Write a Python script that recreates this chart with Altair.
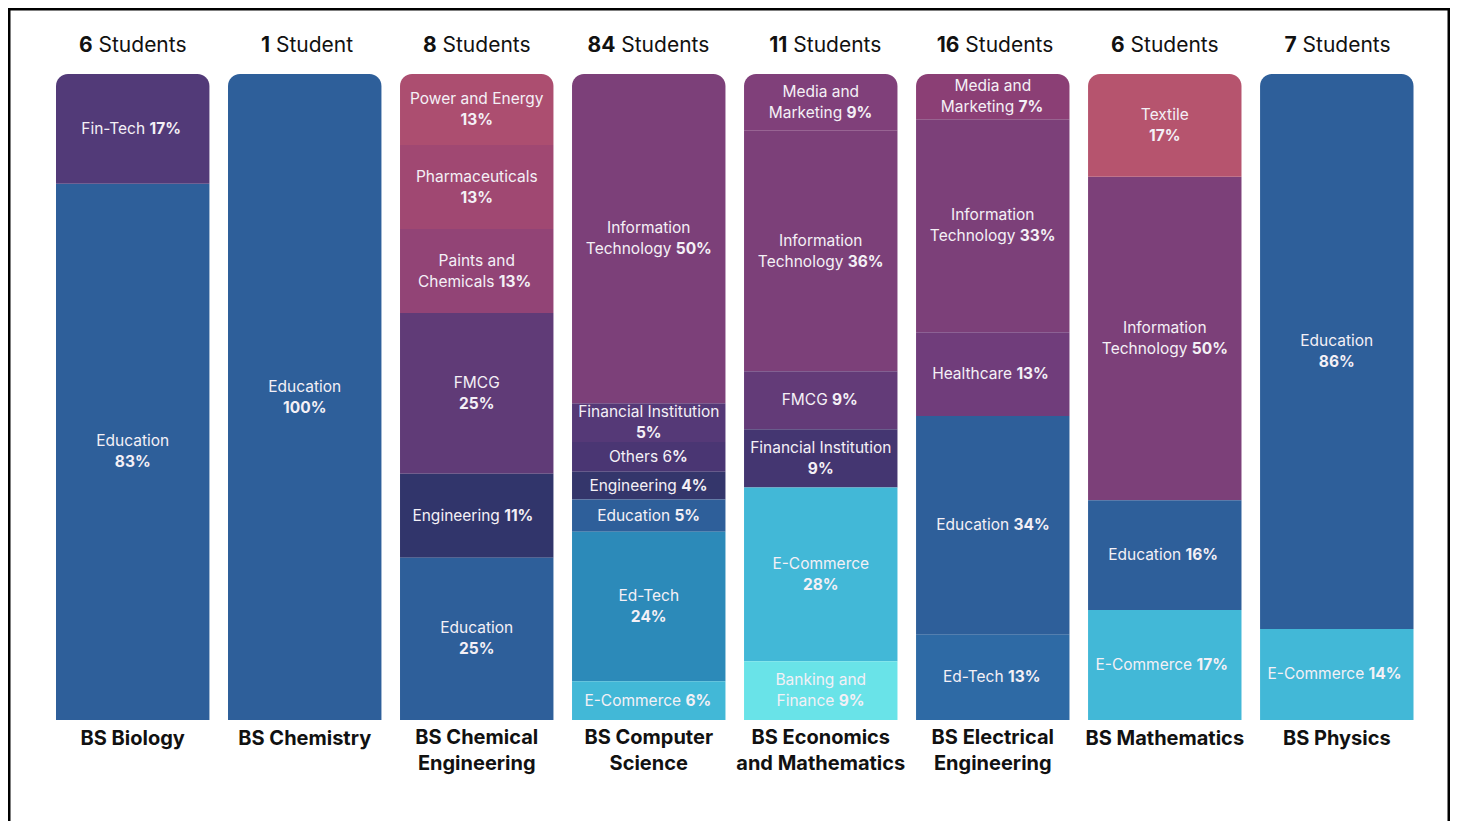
import altair as alt
import pandas as pd

# ---------------- data ----------------
programs = ["BS Biology", "BS Chemistry", "BS Chemical Engineering", "BS Computer Science",
            "BS Economics and Mathematics", "BS Electrical Engineering", "BS Mathematics", "BS Physics"]
program_titles = ["BS Biology", "BS Chemistry", "BS Chemical\nEngineering", "BS Computer\nScience",
                  "BS Economics\nand Mathematics", "BS Electrical\nEngineering", "BS Mathematics", "BS Physics"]
student_counts = [6, 1, 8, 84, 11, 16, 6, 7]
student_words = ["Students", "Student", "Students", "Students", "Students", "Students", "Students", "Students"]

bio_sectors = ["Fin-Tech", "Education"]
bio_shares = [17.0, 83.0]
bio_labels = ["Fin-Tech **17%**", "Education\n**83%**"]

chem_sectors = ["Education"]
chem_shares = [100.0]
chem_labels = ["Education\n**100%**"]

cheng_sectors = ["Power and Energy", "Pharmaceuticals", "Paints and Chemicals", "FMCG", "Engineering", "Education"]
cheng_shares = [11.0, 13.0, 13.0, 24.9, 13.0, 25.1]
cheng_labels = ["Power and Energy\n**13%**", "Pharmaceuticals\n**13%**", "Paints and\nChemicals **13%**",
                "FMCG\n**25%**", "Engineering **11%**", "Education\n**25%**"]

cs_sectors = ["Information Technology", "Financial Institution", "Others", "Engineering", "Education", "Ed-Tech", "E-Commerce"]
cs_shares = [50.9, 6.0, 4.6, 4.3, 5.0, 23.1, 6.0]
cs_labels = ["Information\nTechnology **50%**", "Financial Institution\n**5%**", "Others 6**%**",
             "Engineering **4%**", "Education **5%**", "Ed-Tech\n**24%**", "E-Commerce **6%**"]

econ_sectors = ["Media and Marketing", "Information Technology", "FMCG", "Financial Institution", "E-Commerce", "Banking and Finance"]
econ_shares = [8.8, 37.2, 9.0, 9.0, 26.9, 9.1]
econ_labels = ["Media and\nMarketing **9%**", "Information\nTechnology **36%**", "FMCG **9%**",
               "Financial Institution\n**9%**", "E-Commerce\n**28%**", "Banking and\nFinance **9%**"]

ee_sectors = ["Media and Marketing", "Information Technology", "Healthcare", "Education", "Ed-Tech"]
ee_shares = [7.0, 33.0, 13.0, 33.9, 13.2]
ee_labels = ["Media and\nMarketing **7%**", "Information\nTechnology **33%**", "Healthcare **13%**",
             "Education **34%**", "Ed-Tech **13%**"]

math_sectors = ["Textile", "Information Technology", "Education", "E-Commerce"]
math_shares = [15.9, 50.0, 17.0, 17.0]
math_labels = ["Textile\n**17%**", "Information\nTechnology **50%**", "Education **16%**", "E-Commerce **17%**"]

phys_sectors = ["Education", "E-Commerce"]
phys_shares = [85.9, 14.1]
phys_labels = ["Education\n**86%**", "E-Commerce **14%**"]

# ---------------- styles ----------------
bio_colors = ["#523A78", "#2E5F9A"]
chem_colors = ["#2E5F9A"]
cheng_colors = ["#AC4E70", "#A04872", "#924476", "#603B77", "#31356B", "#2E5F9A"]
cs_colors = ["#7C4079", "#553977", "#4A3673", "#34366B", "#2E5F9A", "#2C8AB9", "#42B8D7"]
econ_colors = ["#80407A", "#7C4079", "#633B78", "#443671", "#42B8D7", "#69E3E8"]
ee_colors = ["#8B3F75", "#7C4079", "#703D7B", "#2E5F9A", "#2E6AA5"]
math_colors = ["#B6546E", "#7C4079", "#2E5F9A", "#42B8D7"]
phys_colors = ["#2E5F9A", "#42B8D7"]

FONT = "Inter"
SEG_SIZE = 15.5
SEG_LINE = 21
TOP_SIZE = 21
BOT_SIZE = 20
BOT_LINE = 26
LABEL_COLOR = "#F4F0F6"

table = [
    (programs[0], bio_sectors, bio_shares, bio_labels, bio_colors),
    (programs[1], chem_sectors, chem_shares, chem_labels, chem_colors),
    (programs[2], cheng_sectors, cheng_shares, cheng_labels, cheng_colors),
    (programs[3], cs_sectors, cs_shares, cs_labels, cs_colors),
    (programs[4], econ_sectors, econ_shares, econ_labels, econ_colors),
    (programs[5], ee_sectors, ee_shares, ee_labels, ee_colors),
    (programs[6], math_sectors, math_shares, math_labels, math_colors),
    (programs[7], phys_sectors, phys_shares, phys_labels, phys_colors),
]

# approximate glyph advance widths (em) for text centring of mixed-weight lines
EM = {' ': 0.28, 'a': 0.55, 'b': 0.6, 'c': 0.55, 'd': 0.6, 'e': 0.56, 'f': 0.36, 'g': 0.6, 'h': 0.58,
      'i': 0.24, 'j': 0.25, 'k': 0.53, 'l': 0.24, 'm': 0.87, 'n': 0.58, 'o': 0.58, 'p': 0.6, 'q': 0.6,
      'r': 0.37, 's': 0.52, 't': 0.36, 'u': 0.58, 'v': 0.54, 'w': 0.79, 'x': 0.53, 'y': 0.54, 'z': 0.52,
      '%': 0.88, '-': 0.42, 'I': 0.28, 'M': 0.84, 'W': 0.95, 'T': 0.62, 'F': 0.56, 'E': 0.58, 'S': 0.62}


def text_width(s, size, bold):
    w = 0.0
    for ch in s:
        if ch in EM:
            w += EM[ch]
        elif ch.isdigit():
            w += 0.6
        elif ch.isupper():
            w += 0.68
        else:
            w += 0.58
    return w * size * (1.07 if bold else 1.0)


def fragments(markup, size, line_height, base_dy=0.0, centre_lines=True):
    lines = markup.split("\n")
    n = len(lines)
    out = []
    for i, line in enumerate(lines):
        dy = base_dy + ((i - (n - 1) / 2) * line_height if centre_lines else i * line_height)
        parts = line.split("**")
        pieces = []
        gap_after = []
        for k, p in enumerate(parts):
            bold = (k % 2 == 1)
            if p.strip() == "":
                if pieces and p != "":
                    gap_after[-1] = True
                continue
            if pieces and p.startswith(" "):
                gap_after[-1] = True
            pieces.append((p.strip(), bold))
            gap_after.append(p.endswith(" "))
        if len(pieces) == 1:
            t, b = pieces[0]
            out.append(dict(text=t, weight="bold" if b else "normal", align="center", dx=0.0, dy=dy))
        else:
            (t1, b1), (t2, b2) = pieces[0], pieces[1]
            w1 = text_width(t1, size, b1)
            w2 = text_width(t2, size, b2)
            g = EM[' '] * size if gap_after[0] else 0.0
            W = w1 + g + w2
            out.append(dict(text=t1, weight="bold" if b1 else "normal", align="right", dx=-W / 2 + w1, dy=dy))
            out.append(dict(text=t2, weight="bold" if b2 else "normal", align="left", dx=-W / 2 + w1 + g, dy=dy))
    return out


bar_rows, seg_rows, keys, colors = [], [], [], []
for prog, sectors, shares, labels, cols in table:
    total = sum(shares)
    cum = 0.0
    for j, (sec, sh, lab, col) in enumerate(zip(sectors, shares, labels, cols)):
        start = cum / total * 100
        cum += sh
        end = cum / total * 100
        key = prog + " | " + sec
        keys.append(key)
        colors.append(col)
        bar_rows.append(dict(program=prog, sector=sec, key=key, start=start, end=end, top=(j == 0)))
        for f in fragments(lab, SEG_SIZE, SEG_LINE):
            f.update(program=prog, y=(start + end) / 2)
            seg_rows.append(f)

top_rows, bot_rows = [], []
for prog, cnt, word, title in zip(programs, student_counts, student_words, program_titles):
    for f in fragments("**%d** %s" % (cnt, word), TOP_SIZE, 0, base_dy=-28):
        f.update(program=prog, y=0.0)
        top_rows.append(f)
    for f in fragments("**" + title.replace("\n", "**\n**") + "**", BOT_SIZE, BOT_LINE,
                       base_dy=18 if "\n" in title else 19, centre_lines=False):
        f.update(program=prog, y=100.0)
        bot_rows.append(f)

bars_df = pd.DataFrame(bar_rows)
seg_df = pd.DataFrame(seg_rows)
top_df = pd.DataFrame(top_rows)
bot_df = pd.DataFrame(bot_rows)

xscale = alt.Scale(domain=programs, range=[47, 1404.5], paddingInner=0.108, paddingOuter=0)
yscale = alt.Scale(domain=[0, 100], range=[65, 711], nice=False, zero=False)
X = alt.X("program:N", scale=xscale, axis=None, sort=programs)
cscale = alt.Scale(domain=keys, range=colors)

base_bars = alt.Chart(bars_df)
bars_rest = base_bars.transform_filter("!datum.top").mark_bar(strokeWidth=0).encode(
    x=X,
    y=alt.Y("start:Q", scale=yscale, axis=None),
    y2="end:Q",
    color=alt.Color("key:N", scale=cscale, legend=None),
)
bars_top = base_bars.transform_filter("datum.top").mark_bar(
    strokeWidth=0, cornerRadiusTopLeft=12, cornerRadiusTopRight=12
).encode(
    x=X,
    y=alt.Y("start:Q", scale=yscale, axis=None),
    y2="end:Q",
    color=alt.Color("key:N", scale=cscale, legend=None),
)


def text_layer(df, size, color):
    return alt.Chart(df).mark_text(
        font=FONT,
        fontSize=size,
        color=color,
        baseline="middle",
        dx=alt.ExprRef(expr="datum.dx"),
        dy=alt.ExprRef(expr="datum.dy"),
        align=alt.ExprRef(expr="datum.align"),
        fontWeight=alt.ExprRef(expr="datum.weight"),
    ).encode(
        x=X,
        y=alt.Y("y:Q", scale=yscale, axis=None),
        text="text:N",
    )


# view runs below the bottom of the page window, so its lower frame edge is not seen;
# total width kept within the page body (1442 px) so the svg is not shrunk
chart = alt.layer(
    bars_rest,
    bars_top,
    text_layer(seg_df, SEG_SIZE, LABEL_COLOR),
    text_layer(top_df, TOP_SIZE, "#111111"),
    text_layer(bot_df, BOT_SIZE, "#111111"),
).properties(
    width=1440,
    height=822,
    autosize=alt.AutoSizeParams(type="none"),
    padding={"left": 1, "top": 1, "right": 1, "bottom": 0},
    background="white",
).configure_view(
    stroke="black",
    strokeWidth=3,
)

chart.save("out.html", embed_options={"renderer": "svg", "actions": False})
